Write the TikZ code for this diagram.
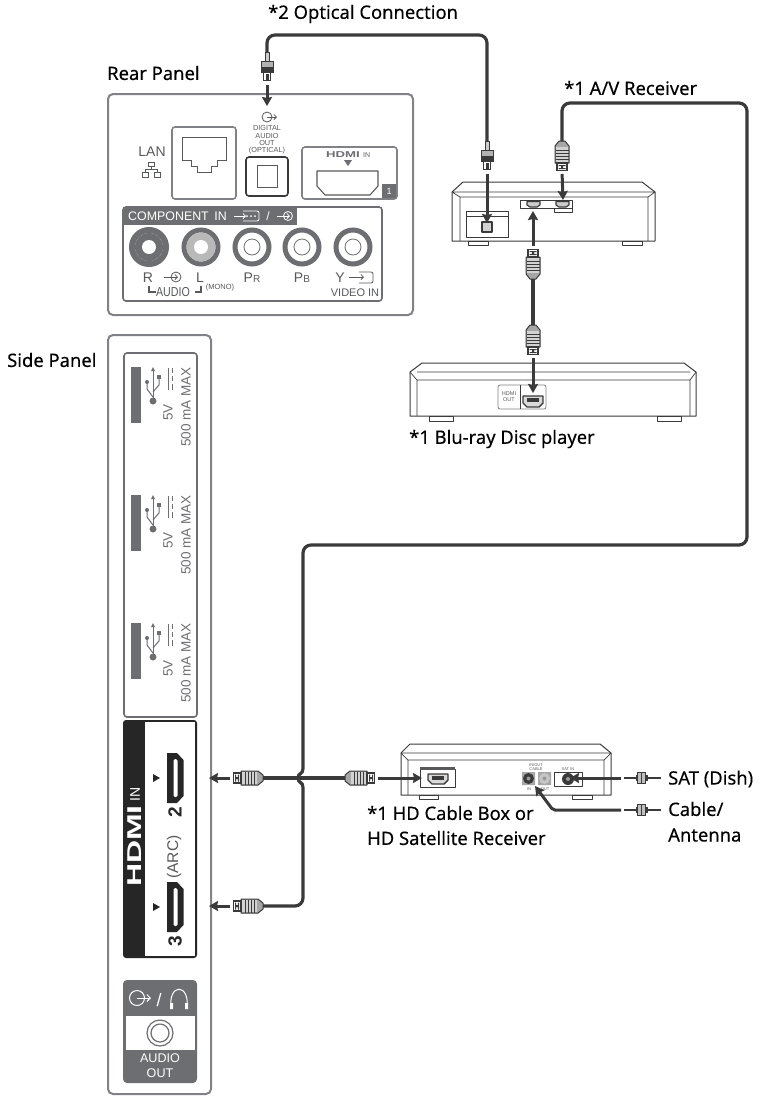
\documentclass[tikz,border=0pt]{standalone}
\usepackage{fontspec}
\setmainfont{Noto Sans}[FakeBold=0.2]
\newfontfamily\panelfont{Liberation Sans}
\usetikzlibrary{arrows.meta,positioning,shapes.geometric}
\definecolor{cablegray}{HTML}{3A3A3A}
\definecolor{panelgray}{HTML}{808285}
\definecolor{blockgray}{HTML}{6D6E71}
\definecolor{plate}{HTML}{58595B}

\begin{document}
\begin{tikzpicture}[
        x=1pt, y=-1pt,
        tag/.style={inner sep=0pt, anchor=west, font=\fontsize{18.4}{22}\selectfont, text=black},
        small/.style={inner sep=0pt, text=plate, font=\panelfont\fontsize{#1}{#1}\selectfont},
        small/.default=12,
        frame/.style={draw=panelgray, line width=2pt, rounded corners=5pt, fill=white},
        inframe/.style={draw=blockgray, line width=1.6pt, rounded corners=3pt, fill=white},
        device/.style={draw=cablegray, line width=1pt, line join=round},
        cable/.style={draw=cablegray, line width=3.2pt, rounded corners=8pt},
        arrow/.style={draw=cablegray, line width=3pt, -{Stealth[length=9pt,width=10pt,inset=1pt]}, shorten <=3pt},
        hdmiplug/.pic={
            \draw[cablegray, line width=1pt, fill=gray!70, line join=round] (-15,-3) -- (-10,-7) -- (7,-7) -- (7,7) -- (-10,7) -- (-15,3) -- cycle;
            \fill[gray!35] (-9,-6) rectangle (6,6);
            \foreach \r in {-6,-3,0,3} \draw[cablegray, line width=.8pt] (\r,-6.5) -- (\r,6.5);
            \draw[cablegray, line width=1.3pt, fill=white] (7,-5) rectangle (14.5,5);
            \fill[cablegray] (9,-1) rectangle (13,1) (9,-3.5) rectangle (10.2,3.5) (12,-3.5) rectangle (13,3.5);
            \coordinate (-tail) at (-15,0);
            \coordinate (-tip) at (15,0);
        },
        opticalplug/.pic={
            \draw[cablegray, line width=.8pt, fill=gray!40] (-15,-2) rectangle (-6,2);
            \draw[cablegray, line width=1pt, fill=gray!60] (-6,-6) rectangle (5,6);
            \fill[cablegray] (0,-6) rectangle (5,6);
            \draw[cablegray, line width=1pt, fill=white] (5,-3.5) rectangle (13,3.5);
            \fill[cablegray] (7,-1.5) rectangle (13,1.5);
            \coordinate (-tail) at (-15,0);
            \coordinate (-tip) at (15,0);
        },
        coaxplug/.pic={
            \fill[cablegray] (-12,-3) rectangle (0,3);
            \draw[cablegray, line width=1pt, fill=gray!50] (-1,-5.5) rectangle (-9,5.5);
            \draw[cablegray, line width=.8pt] (-5,-5.5) -- (-5,5.5);
            \draw[cablegray, line width=1.4pt] (-1,0) -- (12,0);
            \coordinate (-tail) at (-12,0);
            \coordinate (-tip) at (12,0);
        },
        inicon/.pic={
            \draw[plate, line width=.8pt] (0,0) circle [radius=5];
            \draw[plate, line width=.8pt, -{Straight Barb[length=2.5pt,width=5pt]}] (-12,0) -- (2,0);
        },
        outicon/.pic={
            \draw[#1, line width=.8pt] (0,0) circle [radius=5];
            \draw[#1, line width=.8pt, -{Straight Barb[length=2.5pt,width=5pt]}] (0,0) -- (10,0);
        },
        rcajack/.pic={
            \draw[blockgray, line width=5pt, fill=white] (0,0) circle [radius=17];
            \draw[blockgray, line width=.8pt] (0,0) circle [radius=8];
        },
        usbgroup/.pic={
            \fill[blockgray] (0,0) rectangle (10,56);
            \fill[blockgray] (22,34) circle [radius=3.5];
            \draw[blockgray, line width=1pt] (22,34) -- (22,3);
            \fill[blockgray] (22,0) -- (20,4) -- (24,4) -- cycle;
            \draw[blockgray, line width=1pt] (22,30) -- (16,22) -- (16,15);
            \draw[blockgray, line width=1pt] (22,25) -- (28,18) -- (28,10);
            \fill[blockgray] (16,15) circle [radius=2];
            \fill[blockgray] (26,8) rectangle (30,12);
            \draw[blockgray, line width=1pt] (37,1) -- (37,23);
            \draw[blockgray, line width=1pt] (41.5,1) -- (41.5,6) (41.5,9) -- (41.5,14) (41.5,17) -- (41.5,23);
            \node[small=13.5, text=blockgray, rotate=90] at (37,45.5) {5V};
            \node[small=13.5, text=blockgray, rotate=90, anchor=west] at (55,80) {500 mA MAX};
        },
        sideport/.pic={
            \fill[black!85] (0,-25) -- (10,-25) -- (16.5,-18) -- (16.5,18) -- (10,25) -- (0,25) -- cycle;
            \fill[white, rounded corners=1.5pt] (6.5,-19) rectangle (10.5,19);
            \fill[black!85] (-14,-4) -- (-14,4) -- (-7,0) -- cycle;
        }
    ]
        \useasboundingbox (0,0) rectangle (760,1096);
        % Titles
        \node[tag] (optical) at (268,14) {*2 Optical Connection};
        \node[tag] (rear) at (107,73) {Rear Panel};
        \node[tag] (receiver) at (564,88) {*1 A/V Receiver};
        \node[tag] (side) at (7,360) {Side Panel};
        \node[tag] (bluray) at (409,439) {*1 Blu-ray Disc player};
        \node[tag] (hdbox) at (367,813) {*1 HD Cable Box or};
        \node[tag] (hdsat) at (367,838) {HD Satellite Receiver};
        \node[tag] (sat) at (668,779) {SAT (Dish)};
        \node[tag] (coax) at (668,809) {Cable/};
        \node[tag] (antenna) at (668,835) {Antenna};

        % Rear panel
        \draw[frame] (108,94) rectangle (413,315);
        \draw[inframe, draw=panelgray] (172,127) rectangle (236,199);
        \draw[draw=plate, line width=.9pt] (182,137) -- (226,137) -- (226,160) -- (217,160) -- (217,166) -- (211,166) -- (211,172) -- (197,172) -- (197,166) -- (191,166) -- (191,160) -- (182,160) -- cycle;
        \node[small=14] (lan) at (152,152) {LAN};
        \draw[plate, line width=.7pt] (148,162) rectangle (154,166) (151,166) -- (151,169) (145,172) -- (145,169) -- (157,169) -- (157,172) (142,172) rectangle (148,177) (154,172) rectangle (160,177);
        \pic at (267,117) {outicon=plate};
        \node[small=7, align=center, font=\panelfont\fontsize{7.3}{7.2}\selectfont] (digital) at (267,140) {DIGITAL\\AUDIO\\OUT\\(OPTICAL)};
        \draw[draw=cablegray, line width=1.6pt, rounded corners=3pt] (246,157) rectangle (288,196);
        \draw[draw=plate, line width=1pt] (257,165) rectangle (277,187);
        \draw[inframe, draw=panelgray] (302,147) rectangle (397,199);
        \node[small=8.5, font=\panelfont\bfseries\fontsize{8.5}{9}\selectfont, xscale=1.55, text=blockgray] (hdmirear) at (343,155) {HDMI};
        \node[small=7, anchor=west] (hdmiin) at (363,155) {IN};
        \fill[blockgray] (344,160) -- (352,160) -- (348,166) -- cycle;
        \draw[draw=plate, line width=1.1pt, line join=round] (317,171) -- (378,171) -- (378,186) -- (370,195) -- (325,195) -- (317,186) -- cycle;
        \fill[blockgray] (382,184) rectangle (396,198);
        \node[small=9, text=white] (portone) at (389,191) {1};
        \draw[inframe, draw=blockgray] (123,207) rectangle (382,301);
        \fill[blockgray] (123,207) rectangle (297,225);
        \node[small=12.4, text=white, anchor=west] (component) at (128,216) {COMPONENT\, IN};
        \draw[white, line width=.8pt, -{Straight Barb[length=2.5pt,width=5pt]}] (234,216) -- (246,216);
        \draw[white, line width=.8pt, rounded corners=2pt] (243,211) -- (259,211) -- (259,221) -- (243,221);
        \foreach \d in {247,251,255} \fill[white] (\d,216) circle [radius=1];
        \node[small=12, text=white] (slash) at (268,216) {/};
        \draw[white, line width=.8pt] (288,216) circle [radius=4.5];
        \draw[white, line width=.8pt, -{Straight Barb[length=2.5pt,width=5pt]}] (277,216) -- (290,216);
        \draw[blockgray, line width=6pt, fill=white] (149,247) circle [radius=17];
        \fill[blockgray] (149,247) circle [radius=14];
        \fill[white] (149,247) circle [radius=7];
        \draw[blockgray, line width=5pt, fill=white] (201,247) circle [radius=17];
        \fill[gray!55] (201,247) circle [radius=14.5];
        \fill[white] (201,247) circle [radius=7];
        \pic at (252,247) {rcajack};
        \pic at (302,247) {rcajack};
        \pic at (353,247) {rcajack};
        \node[small=14] (rlabel) at (148,278) {R};
        \pic at (176,277) {inicon};
        \node[small=14] (llabel) at (200,278) {L};
        \node[small=14] (prlabel) at (252,278) {P\fontsize{10}{10}\selectfont R};
        \node[small=14] (pblabel) at (302,278) {P\fontsize{10}{10}\selectfont B};
        \node[small=14] (ylabel) at (340,278) {Y};
        \draw[plate, line width=.8pt, -{Straight Barb[length=2.5pt,width=5pt]}] (349,277) -- (364,277);
        \draw[plate, line width=.8pt, rounded corners=2pt] (359,272) -- (373,272) -- (373,283) -- (359,283);
        \node[small=13, xscale=.82] (audio) at (173,292) {AUDIO};
        \draw[plate, line width=1.5pt] (149,286) -- (149,292) -- (156,292);
        \draw[plate, line width=1.5pt] (201,286) -- (201,292) -- (195,292);
        \node[small=7.5] (mono) at (220,288) {(MONO)};
        \node[small=11] (videoin) at (355,293) {VIDEO IN};

        % Side panel
        \draw[frame] (108,335) rectangle (211,1094);
        \draw[inframe] (124,353) rectangle (197,717);
        \foreach \u in {367,495,623} {
            \pic at (131,\u) {usbgroup};
        }
        \fill[black!85, rounded corners=3pt] (123,720) rectangle (197,958);
        \fill[white] (145,722) rectangle (195,956);
        \node[small=20, font=\panelfont\bfseries\fontsize{20}{20}\selectfont, text=white, rotate=90, xscale=1.6] (hdmiside) at (135,846) {HDMI};
        \node[small=14, text=white, rotate=90] (sidein) at (135,794) {IN};
        \pic at (167,778) {sideport};
        \pic at (167,907) {sideport};
        \node[small=19, font=\panelfont\bfseries\fontsize{19}{19}\selectfont, text=black!85, rotate=90] (numtwo) at (175,812) {2};
        \node[small=15.5, rotate=90] (arc) at (174,857) {(ARC)};
        \node[small=19, font=\panelfont\bfseries\fontsize{19}{19}\selectfont, text=black!85, rotate=90] (numthree) at (175,941) {3};
        \fill[blockgray, rounded corners=4pt] (123,980) rectangle (197,1083);
        \fill[white] (126,1016) rectangle (195,1050);
        \draw[blockgray, line width=1.2pt] (160,1033) circle [radius=13] (160,1033) circle [radius=9];
        \draw[white, line width=1pt] (137,998) circle [radius=7.5];
        \draw[white, line width=1pt, -{Straight Barb[length=3.5pt,width=7pt]}] (137,998) -- (151,998);
        \node[small=18, text=white] (slashtwo) at (159,1000) {/};
        \draw[white, line width=1pt] (171,1008) .. controls (168,983) and (190,983) .. (187,1008);
        \fill[white] (170,1003) rectangle (173,1009) (185,1003) rectangle (188,1009);
        \node[small=12.6, text=white] (audioout) at (160,1058) {AUDIO};
        \node[small=12.6, text=white] (audioouttwo) at (160,1073) {OUT};

        % A/V receiver
        \draw[device] (452,192) -- (463,182) -- (642,182) -- (655,192) -- (655,241) -- (452,241) -- cycle;
        \draw[device, line width=.7pt] (452,192) -- (655,192) (452,192) -- (460,197) -- (648,197) -- (655,192) (460,197) -- (460,241) (648,197) -- (648,241);
        \draw[device] (468,241) rectangle (488,245) (622,241) rectangle (642,245);
        \draw[device, fill=white] (466,211) rectangle (508,237);
        \draw[device, line width=.6pt] (466,216) -- (508,216);
        \draw[device, line width=1.2pt, fill=gray!35] (482,222) rectangle (492,232);
        \draw[device, fill=white] (520,200) rectangle (572,208);
        \draw[device, fill=white, line width=.7pt] (554,208) rectangle (572,212.5);
        \draw[device, line width=1.2pt, fill=gray!40] (527,201.5) -- (540,201.5) -- (540,205) -- (537,207) -- (530,207) -- (527,205) -- cycle;
        \draw[device, line width=1.2pt, fill=gray!40] (556,201.5) -- (569,201.5) -- (569,205) -- (566,207) -- (559,207) -- (556,205) -- cycle;
        \coordinate (opticalPort) at (487,223);
        \coordinate (avInPort) at (563,200);
        \coordinate (avOutPort) at (533,211);

        % Blu-ray player
        \draw[device] (410,372) -- (422,363) -- (684,363) -- (696,372) -- (696,416) -- (410,416) -- cycle;
        \draw[device, line width=.7pt] (410,372) -- (417,380) -- (690,380) -- (696,372) (417,380) -- (417,416) (690,380) -- (690,416) (417,372) -- (690,372);
        \draw[device] (429,416) rectangle (453,421) (657,416) rectangle (681,421);
        \draw[device, draw=gray, line width=.8pt, fill=white, rounded corners=2pt] (498,385) rectangle (546,409);
        \draw[device, line width=.8pt] (520,385) -- (520,409);
        \node[small=5.5, align=center, font=\panelfont\fontsize{5.5}{6}\selectfont] (hdmiout) at (509,397) {HDMI\\OUT};
        \draw[device, line width=1.4pt, fill=gray!30] (523,396) -- (543,396) -- (543,403) -- (539,407) -- (527,407) -- (523,403) -- cycle;
        \fill[cablegray] (527,398) rectangle (539,402);
        \coordinate (playerPort) at (533,393);

        % Cable box
        \draw[device] (401,753) -- (410,744) -- (600,744) -- (611,753) -- (611,795) -- (401,795) -- cycle;
        \draw[device, line width=.7pt] (401,753) -- (611,753) (401,753) -- (408,760) -- (604,760) -- (611,753) (408,760) -- (408,795) (604,760) -- (604,795);
        \draw[device] (419,795) rectangle (438,799) (572,795) rectangle (592,799);
        \draw[device, line width=.7pt, fill=white] (420,769) rectangle (455,787);
        \fill[plate] (420,767) rectangle (455,770);
        \draw[device, line width=1.4pt, fill=gray!30] (428,774) -- (448,774) -- (448,780) -- (444,784) -- (432,784) -- (428,780) -- cycle;
        \fill[cablegray] (432,776) rectangle (444,780);
        \node[small=4, align=center, font=\panelfont\fontsize{4}{4.5}\selectfont] (inout) at (536,767) {IN/OUT\\CABLE};
        \fill[gray!70] (522,772) rectangle (535,785) (538,772) rectangle (551,785);
        \fill[cablegray] (528.5,778.5) circle [radius=5.5];
        \fill[gray!45] (544.5,778.5) circle [radius=5.5];
        \fill[gray!80] (528.5,778.5) circle [radius=2] (544.5,778.5) circle [radius=2];
        \node[small=4, font=\panelfont\fontsize{4}{4}\selectfont] (cablein) at (529,789) {IN};
        \node[small=4, font=\panelfont\fontsize{4}{4}\selectfont] (cableout) at (545,789) {OUT};
        \node[small=4, font=\panelfont\fontsize{4}{4}\selectfont] (satin) at (568,769) {SAT IN};
        \draw[device, line width=.7pt] (554,772) rectangle (582,786);
        \fill[cablegray] (568,779) circle [radius=6];
        \fill[gray!80] (568,779) circle [radius=2];
        \coordinate (boxPort) at (422,778);
        \coordinate (satPort) at (570,778);
        \coordinate (coaxPort) at (535,786);
        \coordinate (coaxTurn) at (553,810);

        % Plugs
        \pic (opticalRear) at (267,67) [rotate=-90] {opticalplug};
        \pic (opticalAV) at (487,156) [rotate=-90] {opticalplug};
        \pic (hdmiAV) at (562,156) [rotate=-90] {hdmiplug};
        \pic (hdmiUp) at (533,264) [rotate=90] {hdmiplug};
        \pic (hdmiDown) at (533,340) [rotate=-90] {hdmiplug};
        \pic (hdmiTwo) at (248,778) [rotate=180] {hdmiplug};
        \pic (hdmiArc) at (248,906) [rotate=180] {hdmiplug};
        \pic (hdmiBox) at (360,778) {hdmiplug};
        \pic (satPlug) at (636,778) [rotate=180] {coaxplug};
        \pic (coaxPlug) at (636,810) [rotate=180] {coaxplug};
        \coordinate (portTwo) at (209,778);
        \coordinate (portArc) at (209,906);
        \coordinate (opticalIn) at (267,106);
        \coordinate (satEnd) at (661,778);
        \coordinate (coaxEnd) at (661,810);
        \coordinate (opticalTurn) at (487,35);
        \coordinate (hopLow) at (303,787);
        \coordinate (hopMid) at (298,778);
        \coordinate (hopHigh) at (303,769);
        \coordinate (turnA) at (303,545);
        \coordinate (turnB) at (747,545);
        \coordinate (turnC) at (747,103);
        \coordinate (turnD) at (562,103);

        % Edges
        \draw[cable] (opticalRear-tail) |- (opticalTurn) -- (opticalAV-tail);
        \draw[cable] (hdmiArc-tail) -| (hopLow);
        \draw[cable, rounded corners=0pt] (hopLow) .. controls (303,782) and (298,783) .. (hopMid) .. controls (298,773) and (303,774) .. (hopHigh);
        \draw[cable] (hopHigh) -- (turnA) -- (turnB) -- (turnC) -- (turnD) -- (hdmiAV-tail);
        \draw[cable] (hdmiTwo-tail) -- (hdmiBox-tail);
        \draw[cable] (hdmiUp-tail) -- (hdmiDown-tail);
        \draw[cable, line width=2.6pt] (satPlug-tail) -- (satEnd);
        \draw[cable, line width=2.6pt] (coaxPlug-tail) -- (coaxEnd);
        \draw[arrow] (opticalRear-tip) -- (opticalIn);
        \draw[arrow] (opticalAV-tip) -- (opticalPort);
        \draw[arrow] (hdmiAV-tip) -- (avInPort);
        \draw[arrow] (hdmiUp-tip) -- (avOutPort);
        \draw[arrow] (hdmiDown-tip) -- (playerPort);
        \draw[arrow] (hdmiTwo-tip) -- (portTwo);
        \draw[arrow] (hdmiArc-tip) -- (portArc);
        \draw[arrow] (hdmiBox-tip) -- (boxPort);
        \draw[arrow] (satPlug-tip) -- (satPort);
        \draw[arrow, rounded corners=2pt] (coaxPlug-tip) -- (coaxTurn) -- (coaxPort);
    \end{tikzpicture}
\end{document}
